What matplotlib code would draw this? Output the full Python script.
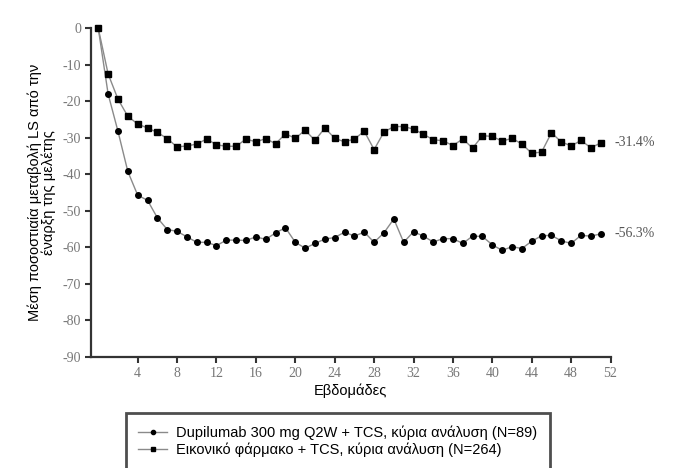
import matplotlib.pyplot as plt

weeks = list(range(0, 52))

# Dupilumab 300 mg Q2W + TCS (circles)
dupilumab = [0, -18.0, -28.2, -39.2, -45.7, -47.1, -51.9, -55.1, -55.6, -57.1,
             -58.6, -58.6, -59.5, -58.0, -58.0, -58.1, -57.1, -57.8, -56.0, -54.6,
             -58.6, -60.2, -58.9, -57.7, -57.3, -55.8, -56.9, -55.8, -58.6, -56.0,
             -52.2, -58.6, -55.7, -56.9, -58.5, -57.6, -57.6, -58.9, -56.9, -57.0,
             -59.3, -60.8, -59.8, -60.3, -58.3, -56.8, -56.7, -58.2, -58.9, -56.7,
             -56.9, -56.3]

# Placebo + TCS (squares)
placebo = [0, -12.5, -19.4, -24.1, -26.2, -27.3, -28.5, -30.2, -32.5, -32.2,
           -31.7, -30.3, -31.9, -32.3, -32.3, -30.3, -31.1, -30.2, -31.6, -28.9,
           -30.1, -27.9, -30.7, -27.3, -30.1, -31.1, -30.3, -28.2, -33.2, -28.4,
           -26.9, -26.9, -27.6, -29.0, -30.5, -30.8, -32.1, -30.3, -32.8, -29.4,
           -29.6, -30.9, -30.1, -31.7, -34.2, -33.9, -28.6, -31.1, -32.2, -30.7,
           -32.7, -31.4]

end_labels = ['-56.3%', '-31.4%']
legend_labels = ['Dupilumab 300 mg Q2W + TCS, κύρια ανάλυση (N=89)',
                 'Εικονικό φάρμακο + TCS, κύρια ανάλυση (N=264)']
xticks = list(range(4, 53, 4))
yticks = list(range(0, -91, -10))

serif = ['Liberation Serif', 'DejaVu Serif']
sans = ['Liberation Sans', 'DejaVu Sans']
tick_col = '#777777'

fig = plt.figure(figsize=(6.73, 4.68), dpi=100)
ax = fig.add_axes([0.1352, 0.2372, 0.7720, 0.7023])

h1, = ax.plot(weeks, dupilumab, color='#8a8a8a', lw=1.0, marker='o', ms=4,
              mfc='black', mec='black', clip_on=False, zorder=3)
h2, = ax.plot(weeks, placebo, color='#8a8a8a', lw=1.0, marker='s', ms=4.2,
              mfc='black', mec='black', clip_on=False, zorder=3)

ax.annotate(end_labels[0], (weeks[-1], dupilumab[-1]), xytext=(10, 0),
            textcoords='offset points', va='center', ha='left',
            fontsize=10, family=serif, color='#555555')
ax.annotate(end_labels[1], (weeks[-1], placebo[-1]), xytext=(10, 0),
            textcoords='offset points', va='center', ha='left',
            fontsize=10, family=serif, color='#555555')

ax.set_xlim(-0.74, 52)
ax.set_ylim(-90, 0)
ax.set_xticks(xticks)
ax.set_yticks(yticks)
ax.set_xticklabels([str(t) for t in xticks], family=serif, fontsize=10)
ax.set_yticklabels([str(t) for t in yticks], family=serif, fontsize=10)
ax.tick_params(direction='out', length=4, width=1.5, colors='#333333', pad=3)
for lab in ax.get_xticklabels() + ax.get_yticklabels():
    lab.set_color(tick_col)

for s in ['top', 'right']:
    ax.spines[s].set_visible(False)
for s in ['left', 'bottom']:
    ax.spines[s].set_linewidth(1.6)
    ax.spines[s].set_color('#333333')

ax.set_xlabel('Εβδομάδες', family=sans, fontsize=10.5, labelpad=3)
ax.set_ylabel('Μέση ποσοστιαία μεταβολή LS από την\nέναρξη της μελέτης',
              family=sans, fontsize=10.5, labelpad=5, linespacing=0.95)

# legend box runs off the bottom edge, as in the original
leg = fig.legend([h1, h2], legend_labels, loc='upper left',
                 bbox_to_anchor=(0.176, 0.133), frameon=True, fancybox=False,
                 prop={'family': sans, 'size': 10.5}, handlelength=2.0,
                 handletextpad=0.6, borderpad=0.85, labelspacing=0.2,
                 markerscale=0.75)
leg.get_frame().set_edgecolor('#222222')
leg.get_frame().set_linewidth(2.0)

fig.savefig('out.png', dpi=100)
